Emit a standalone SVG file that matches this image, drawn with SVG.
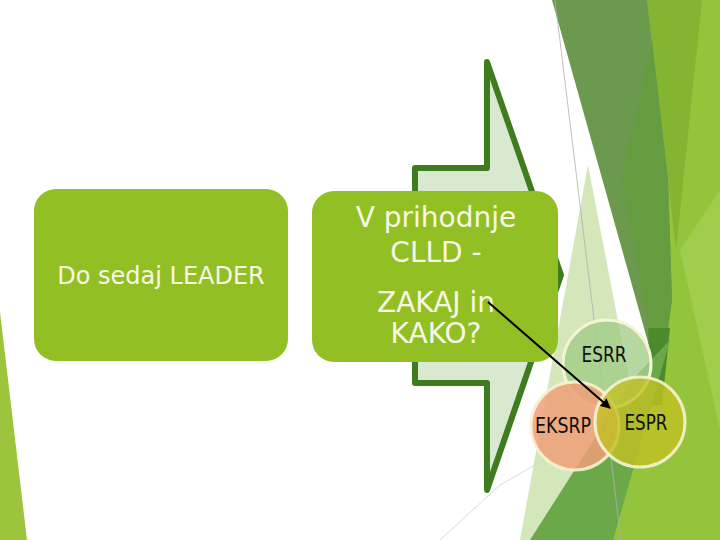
<svg xmlns="http://www.w3.org/2000/svg" width="720" height="540" viewBox="0 0 720 540">
<style>
.box{fill:#92c024}
.boxtxt{font-family:"DejaVu Sans","Liberation Sans",sans-serif;fill:#f8f6e4;text-anchor:middle}
.circ{stroke:#f6f3d2;stroke-width:3}
.ctxt{font-family:"DejaVu Sans","Liberation Sans",sans-serif;font-size:21px;fill:#111;text-anchor:middle}
</style>
<defs>
<marker id="ah" viewBox="0 0 10 10" refX="9" refY="5" markerWidth="5" markerHeight="5" orient="auto">
<path d="M0,0 L10,5 L0,10 z" fill="#000"/>
</marker>
</defs>
<rect width="720" height="540" fill="#ffffff"/>
<g id="background">
<polygon points="0,312 27,540 0,540" fill="#9cc43c"/>
<polygon points="588,165 660,540 520,540" fill="#d3e7bb"/>
<polygon points="640,0 720,0 720,540 612,540 660,330" fill="#93c43b"/>
<polygon points="680,250 720,190 720,430" fill="#a6d156" opacity="0.7"/>
<polygon points="647,0 702,0 676,250" fill="#84b431"/>
<polygon points="552,0 647,0 668,180 672,300 660,385" fill="#6b9a4e"/>
<polygon points="652,40 668,180 672,300 660,385 622,180" fill="#669c40"/>
<polygon points="648,328 670,328 662,405 652,405" fill="#4b8b2b"/>
<polygon points="530,540 613,540 670,340 632,380" fill="#6aa84a"/>
<polyline points="440,540 500,485 570,445" fill="none" stroke="#d0d0d0" stroke-width="0.8"/>
<line x1="555" y1="0" x2="621" y2="540" stroke="#b0b0b0" stroke-width="0.8"/>
</g>
<g id="arrow-shape">
<polygon points="487,62 561,275 487,490 487,383 415,383 415,168 487,168" fill="#d9e9cf" stroke="#3e7c1f" stroke-width="6" stroke-linejoin="round"/>
</g>
<g id="node-leader">
<rect class="box" x="34" y="189" width="254" height="172" rx="22"/>
<text class="boxtxt" x="161" y="284" font-size="24">Do sedaj LEADER</text>
</g>
<g id="node-clld">
<rect class="box" x="312" y="191" width="246" height="171" rx="22"/>
<text class="boxtxt" x="436" y="227" font-size="28">V prihodnje</text>
<text class="boxtxt" x="436" y="262" font-size="28">CLLD -</text>
<text class="boxtxt" x="436" y="312" font-size="28">ZAKAJ in</text>
<text class="boxtxt" x="436" y="343" font-size="28">KAKO?</text>
</g>
<g id="node-esrr">
<circle class="circ" cx="607" cy="364" r="44" fill="#a3cd88" fill-opacity="0.8"/>
<text class="ctxt" x="604" y="362" textLength="45" lengthAdjust="spacingAndGlyphs">ESRR</text>
</g>
<g id="node-eksrp">
<circle class="circ" cx="575" cy="426" r="44" fill="#ee9f78" fill-opacity="0.85" stroke-opacity="0.9"/>
<text class="ctxt" x="563" y="433" textLength="56" lengthAdjust="spacingAndGlyphs">EKSRP</text>
</g>
<g id="node-espr">
<circle class="circ" cx="640" cy="422" r="45" fill="#c2c123" fill-opacity="0.8" stroke-opacity="0.9"/>
<text class="ctxt" x="646" y="430" textLength="43" lengthAdjust="spacingAndGlyphs">ESPR</text>
</g>
<g id="connectors">
<line x1="488" y1="302" x2="610" y2="408" stroke="#000" stroke-width="2" marker-end="url(#ah)"/>
</g>
</svg>
